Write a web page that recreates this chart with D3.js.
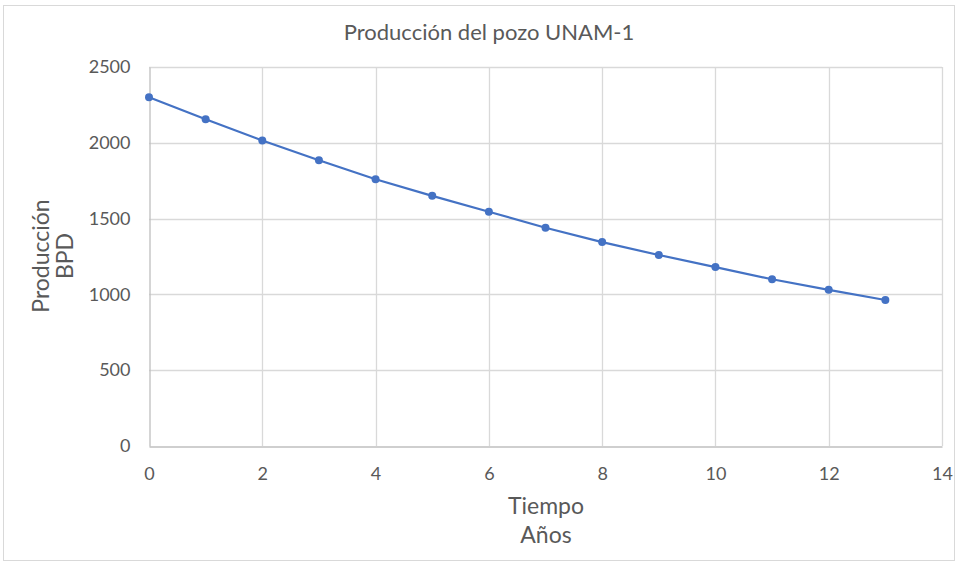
<!DOCTYPE html>
<html>
<head>
<meta charset="utf-8">
<script src="https://cdn.jsdelivr.net/npm/d3@7"></script>
<style>
  body { margin: 0; background: #fff; }
  text { font-family: Lato, "Open Sans", sans-serif; fill: #595959; }
</style>
</head>
<body>
<script>
// data
var years = [0, 1, 2, 3, 4, 5, 6, 7, 8, 9, 10, 11, 12, 13];
var bpd = [2300, 2155, 2015, 1885, 1760, 1650, 1545, 1440, 1345, 1260, 1180, 1100, 1030, 963];
var xTicks = [0, 2, 4, 6, 8, 10, 12, 14];
var yTicks = [0, 500, 1000, 1500, 2000, 2500];

var width = 957, height = 563;
var margin = {left: 149, right: 15, top: 67, bottom: 117};

var svg = d3.select("body").append("svg")
    .attr("width", width)
    .attr("height", height);

// chart frame
svg.append("rect")
    .attr("x", 3.5).attr("y", 5.5)
    .attr("width", width - 6).attr("height", height - 8)
    .attr("fill", "#fff")
    .attr("stroke", "#d9d9d9");

var x = d3.scaleLinear().domain([0, 14]).range([margin.left, width - margin.right]);
var y = d3.scaleLinear().domain([0, 2500]).range([height - margin.bottom, margin.top]);

// grid
svg.append("g")
    .selectAll("line.h")
    .data(yTicks.slice(1))
    .enter().append("line")
    .attr("x1", x(0)).attr("x2", x(14))
    .attr("y1", function (d) { return Math.round(y(d)) + 0.5; })
    .attr("y2", function (d) { return Math.round(y(d)) + 0.5; })
    .attr("stroke", "#d9d9d9").attr("stroke-width", 1.3);

svg.append("g")
    .selectAll("line.v")
    .data(xTicks.slice(1))
    .enter().append("line")
    .attr("y1", y(0)).attr("y2", y(2500))
    .attr("x1", function (d) { return Math.round(x(d)) + 0.5; })
    .attr("x2", function (d) { return Math.round(x(d)) + 0.5; })
    .attr("stroke", "#d9d9d9").attr("stroke-width", 1.3);

// axes
var xAxis = d3.axisBottom(x).tickValues(xTicks).tickSize(0).tickPadding(21).tickFormat(d3.format("d"));
var yAxis = d3.axisLeft(y).tickValues(yTicks).tickSize(0).tickPadding(19).tickFormat(d3.format("d"));

var gx = svg.append("g")
    .attr("transform", "translate(0," + (Math.round(y(0)) + 0.5) + ")")
    .call(xAxis);
var gy = svg.append("g")
    .attr("transform", "translate(" + (Math.round(x(0)) + 0.5) + ",0)")
    .call(yAxis);

[gx, gy].forEach(function (g) {
    g.select(".domain").attr("stroke", "#bfbfbf").attr("stroke-width", 1.3);
    g.selectAll("text").style("font-size", "18px").attr("fill", "#595959");
});
gx.selectAll("text").attr("dy", "0.71em");

// line + markers
var line = d3.line()
    .x(function (d, i) { return x(years[i]); })
    .y(function (d) { return y(d); });

svg.append("path")
    .datum(bpd)
    .attr("d", line)
    .attr("fill", "none")
    .attr("stroke", "#4472c4")
    .attr("stroke-width", 2.2);

svg.append("g")
    .selectAll("circle")
    .data(bpd)
    .enter().append("circle")
    .attr("cx", function (d, i) { return x(years[i]); })
    .attr("cy", function (d) { return y(d); })
    .attr("r", 4)
    .attr("fill", "#4472c4");

// titles
svg.append("text")
    .attr("x", 489).attr("y", 40)
    .attr("text-anchor", "middle")
    .style("font-size", "22px")
    .text("Producción del pozo UNAM-1");

svg.append("text")
    .attr("x", 546).attr("y", 514)
    .attr("text-anchor", "middle")
    .style("font-size", "23px")
    .text("Tiempo");
svg.append("text")
    .attr("x", 546).attr("y", 543)
    .attr("text-anchor", "middle")
    .style("font-size", "23px")
    .text("Años");

svg.append("text")
    .attr("transform", "translate(49,256) rotate(-90)")
    .attr("text-anchor", "middle")
    .style("font-size", "23px")
    .text("Producción");
svg.append("text")
    .attr("transform", "translate(73,256) rotate(-90)")
    .attr("text-anchor", "middle")
    .style("font-size", "23px")
    .text("BPD");
</script>
</body>
</html>
